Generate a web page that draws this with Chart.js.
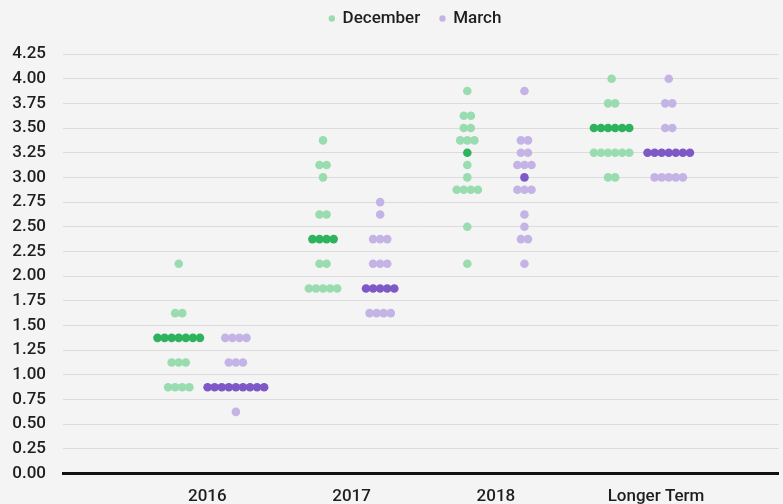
<!DOCTYPE html>
<html><head><meta charset="utf-8">
<script src="https://cdn.jsdelivr.net/npm/chart.js@4"></script>
<style>
html,body{margin:0;padding:0;background:#f4f4f4;overflow:hidden}
#wrap{width:783px;height:520px;position:relative}
</style>
</head><body>
<div id="wrap"><canvas id="c"></canvas></div>
<script>
const categories = ['2016', '2017', '2018', 'Longer Term'];
const categoryLabelPositions = [1, 2, 3, 4.11];
const seriesNames = ['December', 'March'];
const lightColors = ['#98dcb0', '#c4b4e6'];
const darkColors = ['#2db35c', '#7e58c6'];

// each participant's projection (17 per column)
const december2016 = [2.125, 1.625, 1.625, 1.375, 1.375, 1.375, 1.375, 1.375, 1.375, 1.375, 1.125, 1.125, 1.125, 0.875, 0.875, 0.875, 0.875];
const december2017 = [3.375, 3.125, 3.125, 3.0, 2.625, 2.625, 2.375, 2.375, 2.375, 2.375, 2.125, 2.125, 1.875, 1.875, 1.875, 1.875, 1.875];
const december2018 = [3.875, 3.625, 3.625, 3.5, 3.5, 3.375, 3.375, 3.375, 3.25, 3.125, 3.0, 2.875, 2.875, 2.875, 2.875, 2.5, 2.125];
const decemberLonger = [4.0, 3.75, 3.75, 3.5, 3.5, 3.5, 3.5, 3.5, 3.5, 3.25, 3.25, 3.25, 3.25, 3.25, 3.25, 3.0, 3.0];

const march2016 = [1.375, 1.375, 1.375, 1.375, 1.125, 1.125, 1.125, 0.875, 0.875, 0.875, 0.875, 0.875, 0.875, 0.875, 0.875, 0.875, 0.625];
const march2017 = [2.75, 2.625, 2.375, 2.375, 2.375, 2.125, 2.125, 2.125, 1.875, 1.875, 1.875, 1.875, 1.875, 1.625, 1.625, 1.625, 1.625];
const march2018 = [3.875, 3.375, 3.375, 3.25, 3.25, 3.125, 3.125, 3.125, 3.0, 2.875, 2.875, 2.875, 2.625, 2.5, 2.375, 2.375, 2.125];
const marchLonger = [4.0, 3.75, 3.75, 3.5, 3.5, 3.25, 3.25, 3.25, 3.25, 3.25, 3.25, 3.25, 3.0, 3.0, 3.0, 3.0, 3.0];

const yTickLabels = ['0.00','0.25','0.50','0.75','1.00','1.25','1.50','1.75','2.00','2.25','2.50','2.75','3.00','3.25','3.50','3.75','4.00','4.25'];

const seriesColumns = [
  [december2016, december2017, december2018, decemberLonger],
  [march2016, march2017, march2018, marchLonger]
];

const groupOffset = 0.198;
const dotStep = 0.049;

function buildSeries(s) {
  const pts = [], colors = [];
  seriesColumns[s].forEach((rates, ci) => {
    const sorted = [...rates].sort((a, b) => a - b);
    const median = sorted[Math.floor(sorted.length / 2)];
    const levels = [...new Set(rates)].sort((a, b) => b - a);
    levels.forEach(v => {
      const n = rates.filter(r => r === v).length;
      for (let k = 0; k < n; k++) {
        pts.push({ x: (ci + 1) + (s === 0 ? -groupOffset : groupOffset) + (k - (n - 1) / 2) * dotStep, y: v });
        colors.push(v === median ? darkColors[s] : lightColors[s]);
      }
    });
  });
  return { label: seriesNames[s], data: pts, backgroundColor: colors, borderWidth: 0, pointRadius: 4.3, pointHoverRadius: 4.3 };
}

const font = { family: 'Roboto', size: 17, weight: '500' };

const legendTweak = {
  id: 'legendTweak',
  beforeInit(chart) {
    const orig = chart.legend.fit;
    chart.legend.fit = function () { orig.call(this); this.height = 54; };
  },
  afterLayout(chart) {
    const l = chart.legend;
    const dx = 24, dy = -10;
    l.left += dx; l.right += dx; l.top += dy; l.bottom += dy;
  }
};

new Chart(document.getElementById('c'), {
  type: 'scatter',
  data: { datasets: [buildSeries(0), buildSeries(1)] },
  plugins: [legendTweak],
  options: {
    responsive: true,
    maintainAspectRatio: false,
    animation: false,
    layout: { padding: 0 },
    plugins: {
      tooltip: { enabled: false },
      legend: {
        position: 'top',
        labels: {
          usePointStyle: true,
          boxWidth: 4.5, boxHeight: 4.5,
          padding: 20,
          color: '#1e1e1e',
          font: font,
          generateLabels: (chart) => chart.data.datasets.map((d, i) => ({
            text: d.label, fillStyle: lightColors[i], strokeStyle: lightColors[i],
            lineWidth: 0, pointStyle: 'circle', datasetIndex: i, hidden: false, fontColor: '#1e1e1e'
          }))
        }
      }
    },
    scales: {
      x: {
        type: 'linear', min: 0, max: 4.96,
        grid: { display: false, drawTicks: false },
        border: { display: true, color: '#111', width: 3 },
        afterBuildTicks: (scale) => { scale.ticks = categoryLabelPositions.map(v => ({ value: v })); },
        afterFit: (scale) => { scale.paddingLeft = 0; scale.paddingRight = 0; },
        ticks: {
          autoSkip: false, padding: 13, color: '#1e1e1e', font: font,
          callback: (v, i) => categories[i]
        }
      },
      y: {
        min: 0, max: 4.25,
        grid: { color: '#dcdcdc', lineWidth: 1, drawTicks: false },
        border: { display: false },
        afterFit: (scale) => { scale.width = 63; },
        ticks: {
          stepSize: 0.25, padding: 17, color: '#1e1e1e', font: font,
          callback: (v) => yTickLabels[Math.round(v / 0.25)]
        }
      }
    }
  }
});
</script>
</body></html>
